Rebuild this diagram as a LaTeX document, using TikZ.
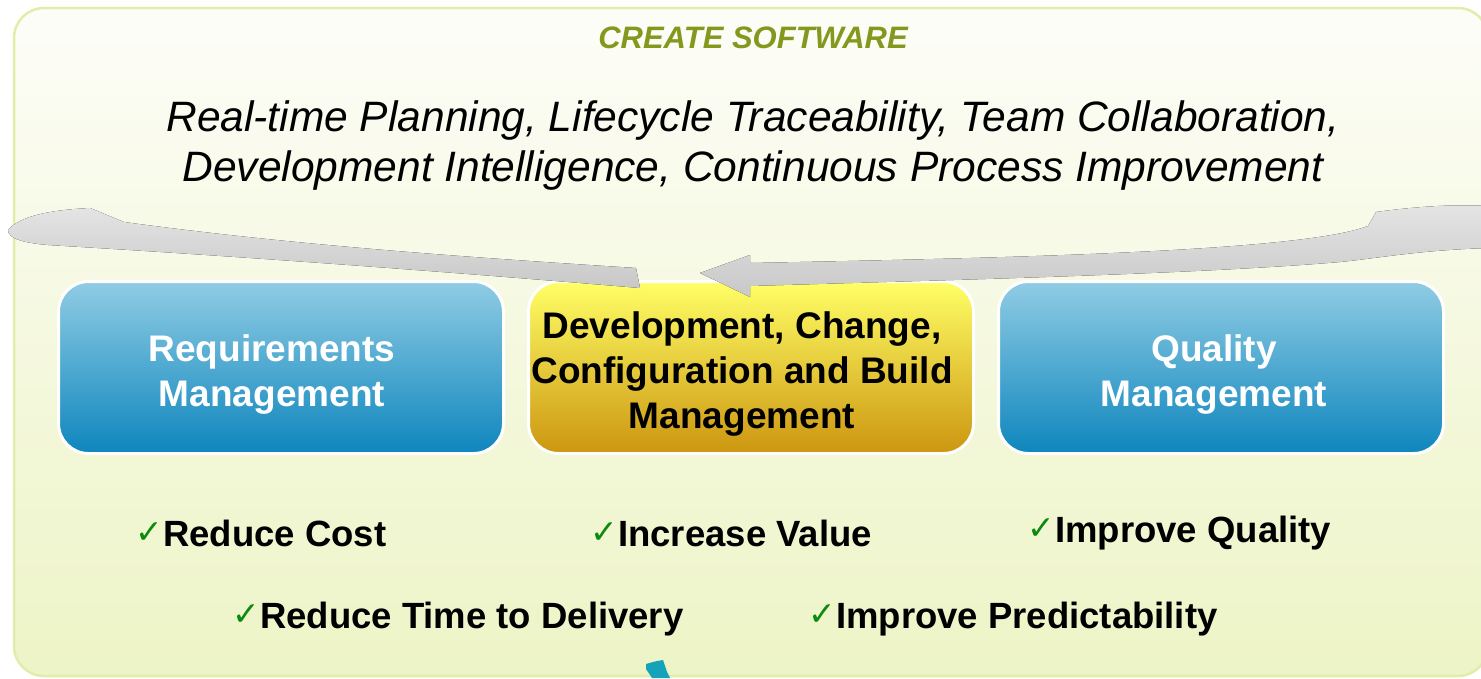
\documentclass[tikz,border=0pt]{standalone}
\usepackage{fontspec}
\setmainfont{Liberation Sans}
\newfontfamily\symbolfont{DejaVu Sans}
\usetikzlibrary{positioning}

\definecolor{frameline}{HTML}{E3ECAA}
\definecolor{bgTop}{HTML}{FDFDF8}
\definecolor{bgBot}{HTML}{EDF4C6}
\definecolor{blueTop}{HTML}{90CCE4}
\definecolor{blueBot}{HTML}{0E86BD}
\definecolor{goldTop}{HTML}{FFFF66}
\definecolor{goldBot}{HTML}{CC9610}
\definecolor{titlegreen}{HTML}{84981E}
\definecolor{tickgreen}{HTML}{0B8A0B}
\definecolor{tealbit}{HTML}{14A3B8}
\definecolor{ribbonTop}{HTML}{E4E4E4}
\definecolor{ribbonBot}{HTML}{C8C8C8}

\newcommand{\gaintick}{\makebox[28pt][l]{\raisebox{3pt}{\symbolfont\fontsize{33}{33}\selectfont\color{tickgreen}✓}}}

\tikzset{
  mgmtbox/.style={rounded corners=30pt, draw=white, line width=3pt,
    minimum width=445pt, minimum height=172pt, inner sep=0pt},
  bluebox/.style={mgmtbox, top color=blueTop, bottom color=blueBot},
  goldbox/.style={mgmtbox, top color=goldTop, bottom color=goldBot},
  boxtext/.style={align=center, inner sep=0pt, font=\bfseries\fontsize{37}{45}\selectfont},
  gain/.style={anchor=base west, inner sep=0pt, font=\bfseries\fontsize{36.5}{40}\selectfont},
  ribbon/.style={top color=ribbonTop, bottom color=ribbonBot, draw=none},
}

\begin{document}
\begin{tikzpicture}[x=1pt,y=-1pt]
  \useasboundingbox (0,0) rectangle (1481,678);
  \clip (0,0) rectangle (1481,678);
  % background panel
  \draw[draw=frameline, line width=2.5pt, top color=bgTop, bottom color=bgBot,
    rounded corners=30pt] (14,8) rectangle (1488,676);

  \node[anchor=base, text=titlegreen, font=\bfseries\itshape\fontsize{31}{31}\selectfont]
    (title) at (753,48) {CREATE SOFTWARE};
  \node[anchor=base, align=center, font=\itshape\fontsize{42.5}{50}\selectfont]
    (themes) at (753,181) {Real-time Planning, Lifecycle Traceability, Team Collaboration,\\
    Development Intelligence, Continuous Process Improvement};

  % the three disciplines
  \node[bluebox] (reqmgmt) at (281,367.5) {};
  \node[goldbox, right=22pt of reqmgmt] (devmgmt) {};
  \node[bluebox, right=22pt of devmgmt] (qualmgmt) {};
  \node[boxtext, text=white] (reqtext) at ([xshift=-9pt,yshift=-7pt]reqmgmt.center) {Requirements\\Management};
  \node[boxtext] (devtext) at ([xshift=-9pt,yshift=-7pt]devmgmt.center) {Development, Change,\\Configuration and Build\\Management};
  \node[boxtext, text=white] (qualtext) at ([xshift=-7pt,yshift=-7pt]qualmgmt.center) {Quality\\Management};

  % grey cycle ribbons
  \fill[ribbon] (8,230) .. controls (20,216) and (50,210) .. (90,208) -- (124,222)
    .. controls (300,246) and (480,258) .. (636,268) -- (640,288)
    .. controls (450,272) and (250,257) .. (48,245)
    .. controls (25,243) and (8,239) .. cycle;
  \fill[ribbon] (700,273) -- (750,255) -- (750,263)
    .. controls (1000,258) and (1300,252) .. (1368,226) -- (1376,212)
    .. controls (1420,206) and (1460,204) .. (1490,206) -- (1490,248)
    .. controls (1420,250) and (1380,258) .. (1340,262)
    .. controls (1200,274) and (950,280) .. (750,286) -- (750,297) -- cycle;

  % benefits
  \node[gain] (cost) at (135,546) {\gaintick Reduce Cost};
  \node[gain] (value) at (590,546) {\gaintick Increase Value};
  \node[gain] (quality) at (1027,542) {\gaintick Improve Quality};
  \node[gain] (delivery) at (232,628) {\gaintick Reduce Time to Delivery};
  \node[gain] (predict) at (808,628) {\gaintick Improve Predictability};

  \fill[tealbit] (646,664) -- (653,662) -- (657,661) -- (663,660) -- (664,663)
    -- (667,672) -- (670,678) -- (652,678) -- (648,672) -- (646,669) -- cycle;
\end{tikzpicture}
\end{document}
